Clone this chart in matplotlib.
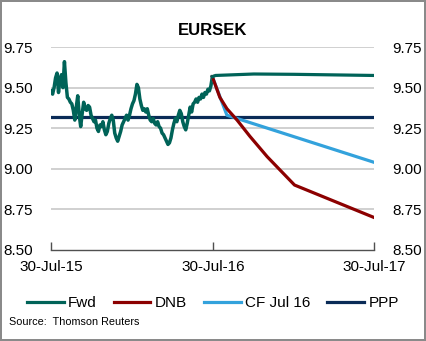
import pandas as pd
import matplotlib.pyplot as plt
from matplotlib.lines import Line2D

plt.rcParams['font.family'] = ['Liberation Sans', 'DejaVu Sans']

# EURSEK spot history, 30-Jul-15 .. 29-Jul-16 (roughly every 2nd trading day)
hist_vals = [9.48, 9.46, 9.50, 9.56, 9.59, 9.47, 9.55, 9.58, 9.50, 9.66,
             9.53, 9.44, 9.43, 9.41, 9.40, 9.36, 9.30, 9.38, 9.45, 9.33,
             9.26, 9.34, 9.41, 9.37, 9.36, 9.39, 9.38, 9.33, 9.31, 9.29,
             9.30, 9.25, 9.23, 9.27, 9.26, 9.29, 9.24, 9.21, 9.23, 9.28,
             9.31, 9.33, 9.30, 9.22, 9.19, 9.17, 9.20, 9.23, 9.27, 9.29,
             9.31, 9.33, 9.30, 9.33, 9.37, 9.40, 9.42, 9.46, 9.52, 9.50,
             9.43, 9.39, 9.36, 9.37, 9.35, 9.37, 9.33, 9.30, 9.29, 9.31,
             9.28, 9.27, 9.29, 9.26, 9.25, 9.22, 9.21, 9.19, 9.17, 9.15,
             9.16, 9.19, 9.24, 9.28, 9.31, 9.29, 9.33, 9.36, 9.34, 9.29,
             9.26, 9.24, 9.28, 9.33, 9.38, 9.35, 9.40, 9.41, 9.43, 9.41,
             9.44, 9.43, 9.46, 9.44, 9.47, 9.46, 9.49, 9.48, 9.51, 9.567]
hist_dates = pd.date_range('2015-07-30', '2016-07-29', periods=len(hist_vals))

fwd_dates = pd.to_datetime(['2016-07-29', '2016-08-05', '2016-10-31', '2017-01-31', '2017-07-30'])
fwd_vals = [9.567, 9.575, 9.584, 9.582, 9.575]

dnb_dates = pd.to_datetime(['2016-07-29', '2016-08-15', '2016-08-31', '2016-09-23',
                            '2016-10-22', '2016-11-30', '2017-01-31', '2017-07-30'])
dnb_vals = [9.567, 9.44, 9.37, 9.30, 9.20, 9.075, 8.90, 8.70]

cf_dates = pd.to_datetime(['2016-07-29', '2016-08-31', '2017-07-30'])
cf_vals = [9.567, 9.33, 9.04]

ppp_dates = pd.to_datetime(['2015-07-30', '2017-07-30'])
ppp_vals = [9.32, 9.32]

xticks = pd.to_datetime(['2015-07-30', '2016-07-30', '2017-07-30'])
xtick_labels = ['30-Jul-15', '30-Jul-16', '30-Jul-17']
yticks = [8.50, 8.75, 9.00, 9.25, 9.50, 9.75]

c_fwd = '#006358'
c_dnb = '#8c0000'
c_cf = '#33a2dc'
c_ppp = '#0a2b57'

fig = plt.figure(figsize=(4.26, 3.41), dpi=100)
fig.patch.set_edgecolor('#8a8a8a')
fig.patch.set_linewidth(1.5)
ax = fig.add_axes([0.12, 0.267, 0.758, 0.595])

for y in yticks[1:]:
    ax.axhline(y, color='#c4c4c4', lw=1.1, zorder=1)

lw = 2.3
ax.plot(ppp_dates, ppp_vals, color=c_ppp, lw=lw, zorder=2)
ax.plot(hist_dates, hist_vals, color=c_fwd, lw=2.5, zorder=3)
ax.plot(cf_dates, cf_vals, color=c_cf, lw=lw, zorder=3)
ax.plot(dnb_dates, dnb_vals, color=c_dnb, lw=lw, zorder=4)
ax.plot(fwd_dates, fwd_vals, color=c_fwd, lw=lw, zorder=5)

ax.set_xlim(xticks[0], xticks[-1])
ax.set_ylim(8.50, 9.75)
ax.set_yticks(yticks)
ax.set_yticklabels(['%.2f' % v for v in yticks])
ax.set_xticks(xticks)
ax.set_xticklabels(xtick_labels)
ax.tick_params(axis='y', length=0, labelsize=11, pad=13, labelright=True, right=False)
ax.tick_params(axis='x', direction='in', length=6, width=1, color='#505050',
               labelsize=11, pad=7)
for s in ['top', 'left', 'right']:
    ax.spines[s].set_visible(False)
ax.spines['bottom'].set_color('#505050')
ax.spines['bottom'].set_linewidth(1)
ax.spines['bottom'].set_zorder(6)

fig.text(0.5, 0.91, 'EURSEK', ha='center', va='center', fontsize=12, fontweight='bold')

handles = [Line2D([], [], color=c, lw=2.3) for c in [c_fwd, c_dnb, c_cf, c_ppp]]
fig.legend(handles, ['Fwd', 'DNB', 'CF Jul 16', 'PPP'], loc='center',
           bbox_to_anchor=(0.5, 0.11), ncol=4, frameon=False, fontsize=11,
           handlelength=2.4, handletextpad=0.3, columnspacing=1.1)

fig.text(0.022, 0.055, 'Source:  Thomson Reuters', fontsize=7.8, ha='left', va='center')

fig.savefig('out.png', dpi=100, edgecolor=fig.get_edgecolor())
